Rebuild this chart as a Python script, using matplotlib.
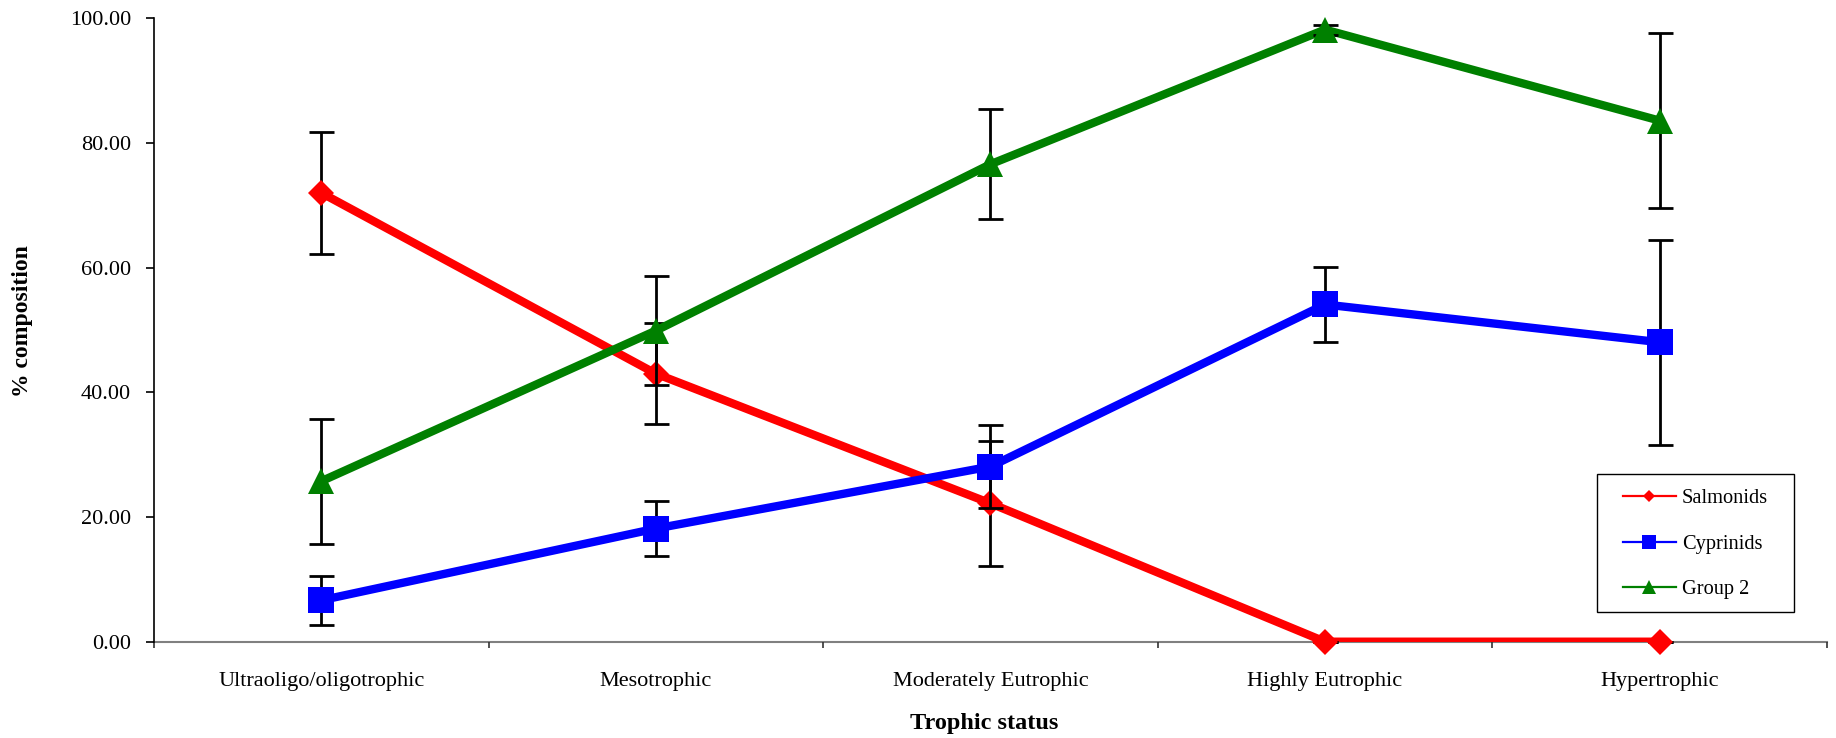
import matplotlib
matplotlib.use("Agg")
import matplotlib.pyplot as plt
from matplotlib.lines import Line2D
from matplotlib.patches import Rectangle
from matplotlib.ticker import FormatStrFormatter, FixedLocator

categories = ["Ultraoligo/oligotrophic", "Mesotrophic", "Moderately Eutrophic",
              "Highly Eutrophic", "Hypertrophic"]
salmonids = [72.0, 43.0, 22.2, 0.0, 0.0]
salmonids_err = [9.8, 8.1, 10.0, 0.0, 0.0]
cyprinids = [6.65, 18.15, 28.1, 54.1, 48.05]
cyprinids_err = [3.95, 4.35, 6.7, 6.0, 16.45]
group2 = [25.75, 49.9, 76.6, 98.2, 83.6]
group2_err = [10.05, 8.7, 8.8, 0.8, 14.1]
yticks = [0, 20, 40, 60, 80, 100]

plt.rcParams['font.family'] = ['Liberation Serif', 'DejaVu Serif']

fig = plt.figure(figsize=(18.36, 7.38), dpi=100)
ax = fig.add_axes([0.0839, 0.1305, 0.9111, 0.8446])

x = list(range(len(categories)))
series = [
    ("Salmonids", salmonids, salmonids_err, "#FF0000", "D", 13, 6.5),
    ("Cyprinids", cyprinids, cyprinids_err, "#0000FF", "s", 18.5, 9.5),
    ("Group 2", group2, group2_err, "#008000", "^", 18.5, 10),
]

handles = []
for i, (name, vals, errs, col, mk, ms, lms) in enumerate(series):
    ax.plot(x, vals, color=col, lw=6, zorder=2 + i * 3, clip_on=True,
            solid_joinstyle='miter', solid_capstyle='butt')
    ax.errorbar(x, vals, yerr=errs, fmt='none', ecolor='black', elinewidth=2,
                capsize=9, capthick=2, zorder=3 + i * 3, clip_on=False)
    ax.plot(x, vals, linestyle='none', marker=mk, markersize=ms, color=col,
            markeredgewidth=0, zorder=4 + i * 3, clip_on=False)
    handles.append(Line2D([0], [0], color=col, lw=1.6, marker=mk,
                          markersize=lms, markeredgewidth=0))

ax.set_xlim(-0.5, 4.5)
ax.set_ylim(0, 100)
ax.set_yticks(yticks)
ax.yaxis.set_major_formatter(FormatStrFormatter('%.2f'))
ax.set_xticks(x)
ax.set_xticklabels(categories, fontsize=16)
ax.xaxis.set_minor_locator(FixedLocator([-0.5, 0.5, 1.5, 2.5, 3.5, 4.5]))
ax.tick_params(axis='x', which='major', length=0, pad=22)
ax.tick_params(axis='x', which='minor', length=4.5, width=1.2, direction='out',
               color='#333333')
ax.tick_params(axis='y', which='major', length=5.5, width=1.2, direction='out',
               labelsize=16, pad=11)

for s in ['top', 'right']:
    ax.spines[s].set_visible(False)
ax.spines['left'].set_color('black')
ax.spines['left'].set_linewidth(1.2)
ax.spines['bottom'].set_color('#808080')
ax.spines['bottom'].set_linewidth(1.5)
ax.spines['bottom'].set_zorder(1.5)

ax.set_xlabel("Trophic status", fontsize=17.5, fontweight='bold')
ax.xaxis.set_label_coords(0.4964, -0.114)
ax.set_ylabel("% composition", fontsize=17, fontweight='bold')
ax.yaxis.set_label_coords(-0.0722, 0.515)

# legend frame (drawn explicitly to match the box proportions)
box = Rectangle((0.8625, 0.0477), 0.9803 - 0.8625, 0.269 - 0.0477,
                transform=ax.transAxes, facecolor='white', edgecolor='black',
                lw=1.0, zorder=19, clip_on=False)
ax.add_patch(box)
leg = ax.legend(handles, ["Salmonids", "Cyprinids", "Group 2"],
                loc='center', bbox_to_anchor=(0.9215, 0.1567),
                fontsize=14.7, frameon=False, handlelength=2.6,
                handletextpad=0.3, labelspacing=1.3, borderpad=0,
                borderaxespad=0)
leg.set_zorder(20)

fig.savefig("out.png", dpi=100)
